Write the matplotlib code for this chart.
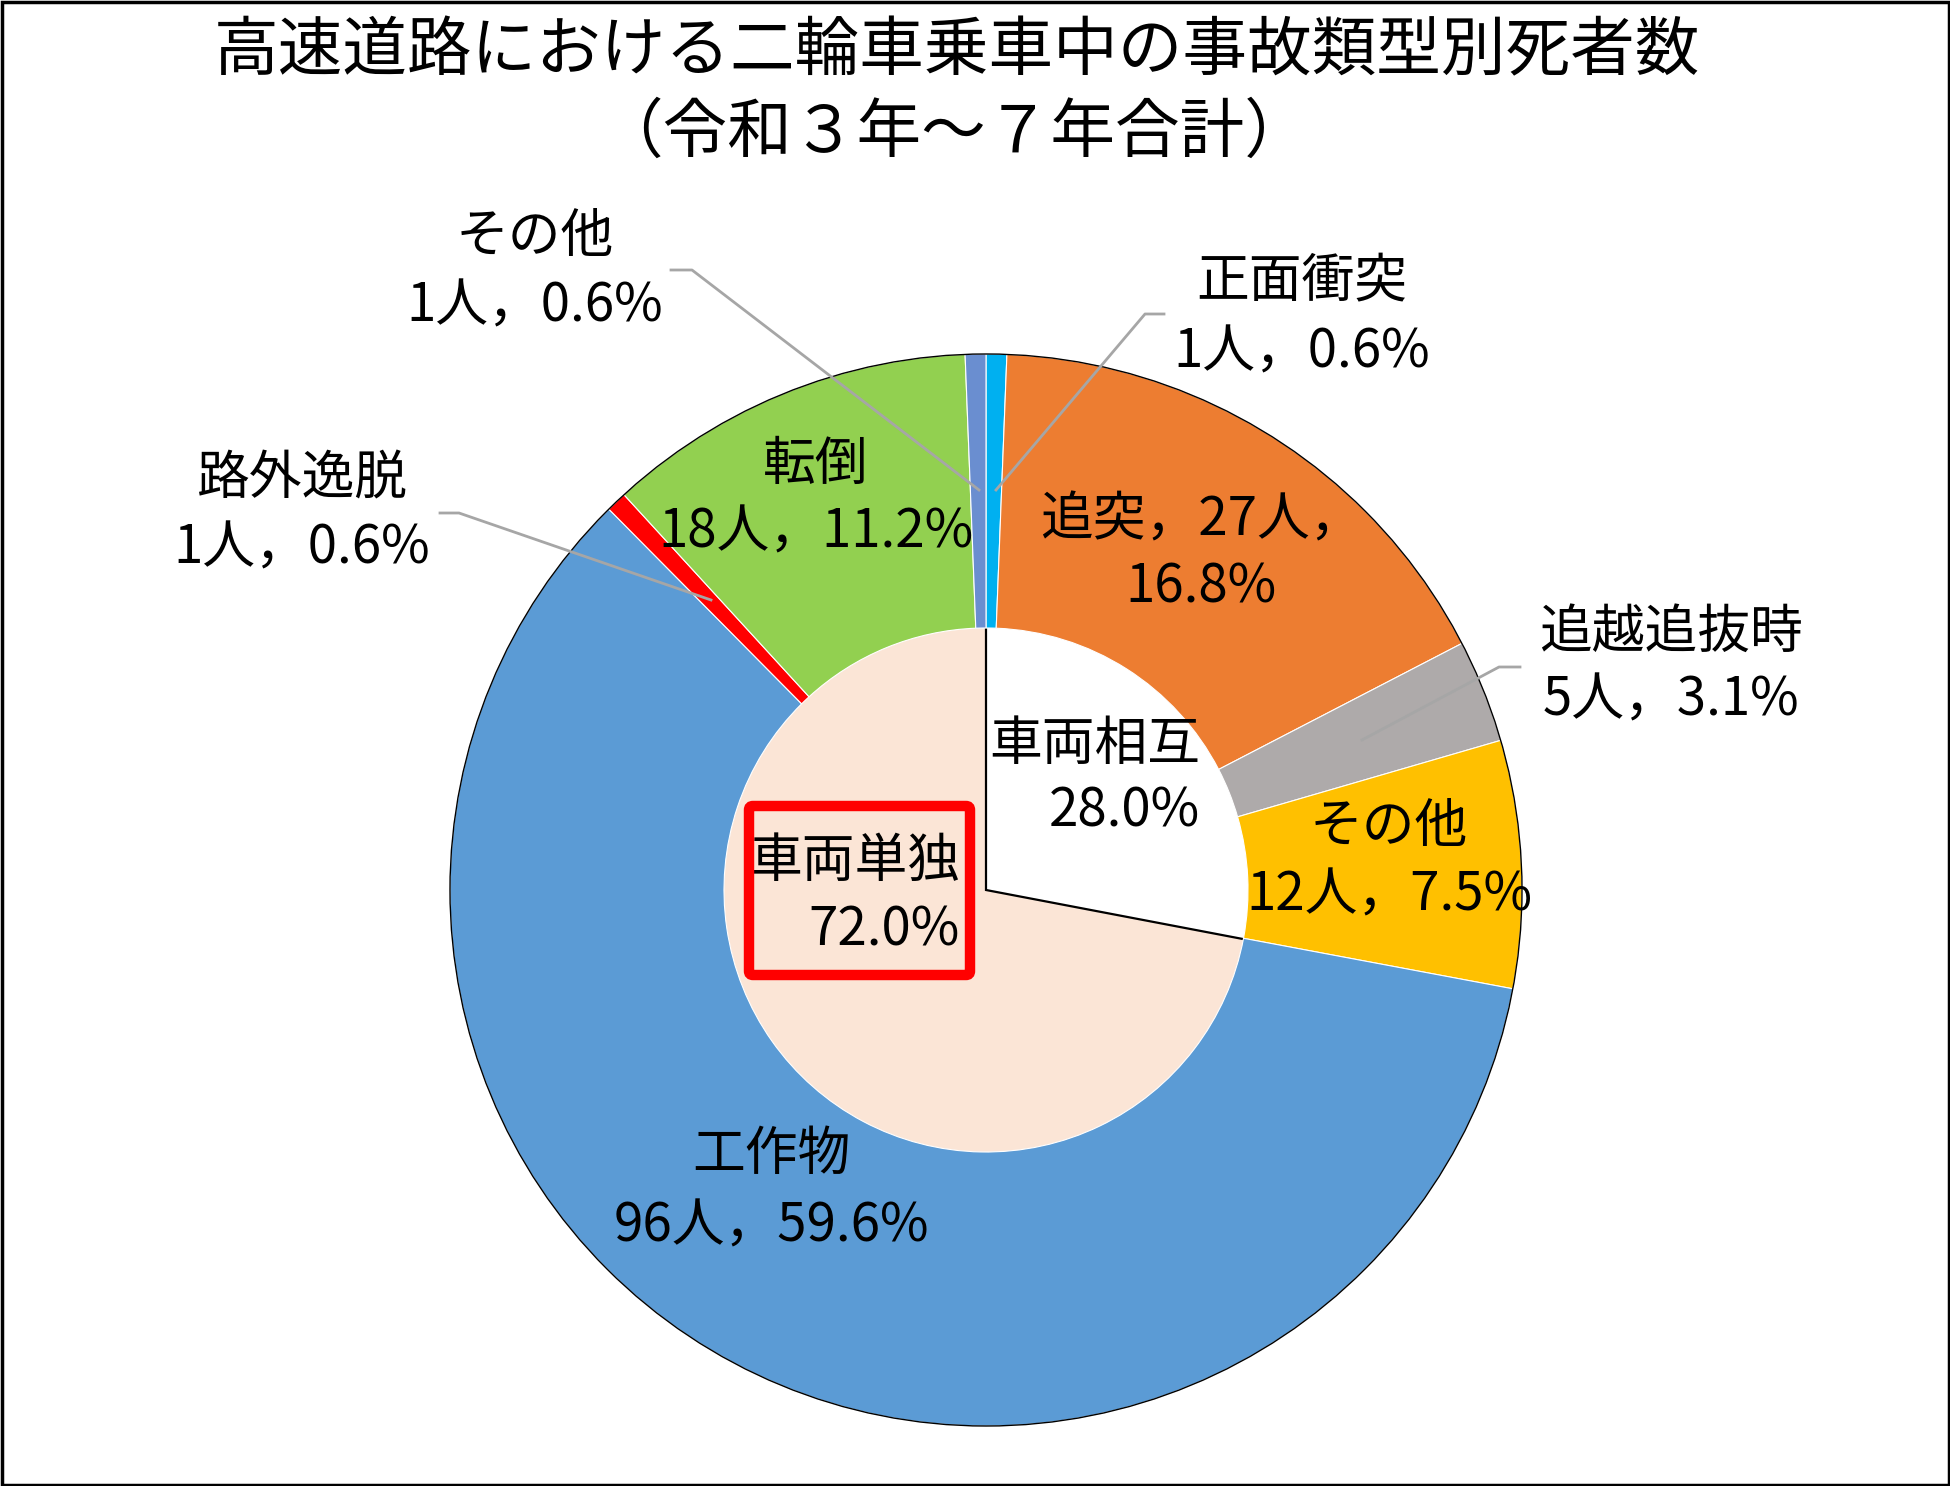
import matplotlib
matplotlib.use("Agg")
import matplotlib.pyplot as plt
from matplotlib.patches import Circle, FancyBboxPatch, Rectangle
import numpy as np

plt.rcParams['font.family'] = ['Noto Sans CJK JP', 'DejaVu Sans']

# ---- data ----
title_lines = ["高速道路における二輪車乗車中の事故類型別死者数", "（令和３年～７年合計）"]
outer_names = ["正面衝突", "追突", "追越追抜時", "その他", "工作物", "路外逸脱", "転倒", "その他"]
outer_counts = [1, 27, 5, 12, 96, 1, 18, 1]
outer_pcts = [0.6, 16.8, 3.1, 7.5, 59.6, 0.6, 11.2, 0.6]
outer_colors = ["#00B0F0", "#ED7D31", "#AEAAAA", "#FFC000", "#5B9BD5", "#FF0000", "#92D050", "#6A8ED0"]
inner_names = ["車両相互", "車両単独"]
inner_pcts = [28.0, 72.0]
inner_colors = ["#FFFFFF", "#FBE5D6"]

W, H = 1950, 1486
def Y(y):
    return H - y

fig = plt.figure(figsize=(W / 100, H / 100), dpi=100)
ax = fig.add_axes([0, 0, 1, 1])

cx, cy = 986, Y(890)
R_out, r_in = 536, 266

# inner pie
wedges_in, _ = ax.pie(inner_pcts, colors=inner_colors, startangle=90, counterclock=False,
                      radius=r_in, center=(cx, cy), wedgeprops=dict(linewidth=0))
wedges_in[0].set_edgecolor("black")
wedges_in[0].set_linewidth(1.6)
wedges_in[0].set_zorder(2)
wedges_in[1].set_zorder(1)

# outer ring
wedges_out, _ = ax.pie(outer_counts, colors=outer_colors, startangle=90, counterclock=False,
                       radius=R_out, center=(cx, cy),
                       wedgeprops=dict(width=R_out - r_in + 4, edgecolor="white", linewidth=0.8))
for w in wedges_out:
    w.set_zorder(3)
ax.add_patch(Circle((cx, cy), R_out, fill=False, edgecolor="black", linewidth=1.0, zorder=4))

ax.set_xlim(0, W)
ax.set_ylim(0, H)
ax.set_aspect("equal")
ax.axis("off")

# border
ax.add_patch(Rectangle((1.5, 1.5), W - 3, H - 3, fill=False, edgecolor="black", linewidth=2.5,
                       zorder=10, clip_on=False))

# title
ax.text(957, Y(52), title_lines[0], ha="center", va="center", fontsize=46.5, zorder=6)
ax.text(954, Y(134), title_lines[1], ha="center", va="center", fontsize=46.5, zorder=6)

fs = 38
lead_col = "#A6A6A6"

def two_line(x, y1, y2, l1, l2, ha="center"):
    ax.text(x, Y(y1), l1, ha=ha, va="center", fontsize=fs, zorder=6)
    ax.text(x, Y(y2), l2, ha=ha, va="center", fontsize=fs, zorder=6)

def cnt(i):
    return f"{outer_counts[i]}人，{outer_pcts[i]:.1f}%"

# 正面衝突 (outside, leader)
two_line(1302, 281, 352, outer_names[0], cnt(0))
ax.plot([1164, 1145, 996], [Y(314), Y(314), Y(490)], color=lead_col, lw=2, zorder=5)

# 追突 (inside)
two_line(1201, 520, 587, f"{outer_names[1]}，{outer_counts[1]}人，", f"{outer_pcts[1]:.1f}%")

# 追越追抜時 (outside)
two_line(1671, 632, 700, outer_names[2], cnt(2))
ax.plot([1520, 1499, 1362], [Y(667), Y(667), Y(740)], color=lead_col, lw=2, zorder=5)

# その他 yellow (inside)
two_line(1389, 826, 895, outer_names[3], cnt(3))

# 工作物
two_line(771, 1154, 1226, outer_names[4], cnt(4))

# 路外逸脱 (outside)
two_line(302, 479, 548, outer_names[5], cnt(5))
ax.plot([440, 459, 711], [Y(513), Y(513), Y(600)], color=lead_col, lw=2, zorder=5)

# 転倒
two_line(816, 464, 532, outer_names[6], cnt(6))

# その他 top (outside)
two_line(535, 236, 306, outer_names[7], cnt(7))
ax.plot([671, 692, 979], [Y(270), Y(270), Y(490)], color=lead_col, lw=2, zorder=5)

# inner labels (right aligned)
two_line(1200, 744, 811, inner_names[0], f"{inner_pcts[0]:.1f}%", ha="right")
two_line(960, 861, 930, inner_names[1], f"{inner_pcts[1]:.1f}%", ha="right")

# red box around 車両単独
ax.add_patch(FancyBboxPatch((749, Y(975)), 221, 169, boxstyle="round,pad=0,rounding_size=4",
                            fill=False, edgecolor="#FF0000", linewidth=7.5, zorder=7))

fig.savefig("out.png", dpi=100)
